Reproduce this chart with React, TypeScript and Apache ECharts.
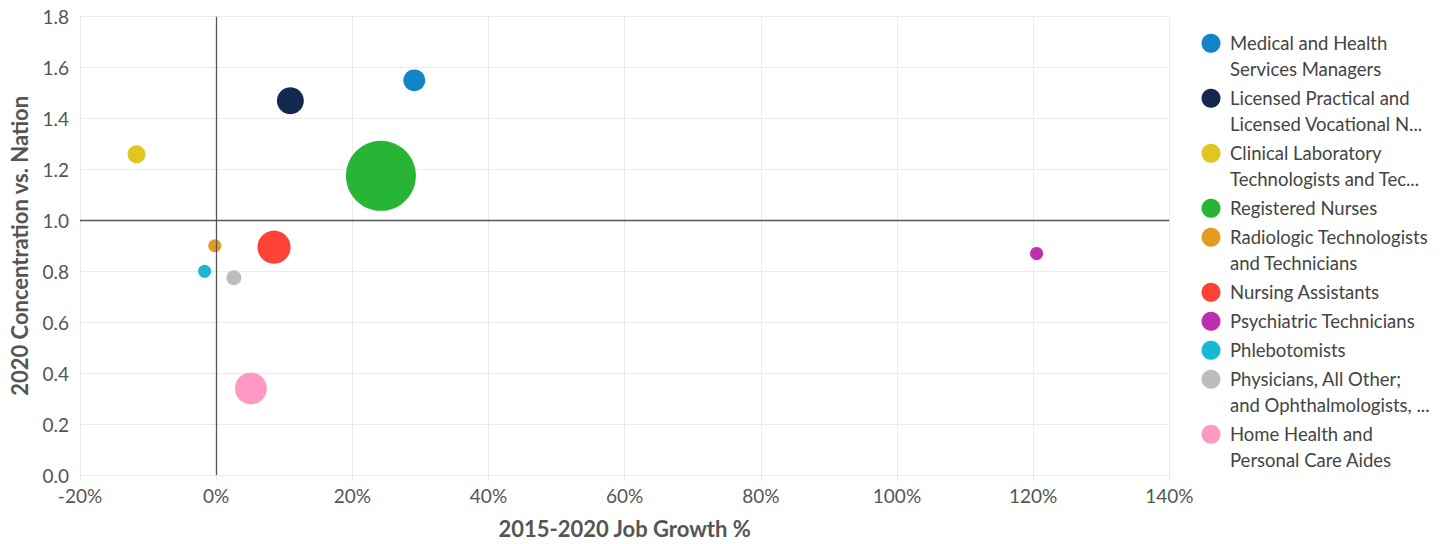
import React, { useEffect, useRef } from "react";
import * as echarts from "echarts";

// Occupations shown as bubbles
const occupations = [
  "Medical and Health\nServices Managers",
  "Licensed Practical and\nLicensed Vocational N...",
  "Clinical Laboratory\nTechnologists and Tec...",
  "Registered Nurses",
  "Radiologic Technologists\nand Technicians",
  "Nursing Assistants",
  "Psychiatric Technicians",
  "Phlebotomists",
  "Physicians, All Other;\nand Ophthalmologists, ...",
  "Home Health and\nPersonal Care Aides",
];

// 2015-2020 job growth, in percent
const jobGrowth = [29.1, 10.9, -11.7, 24.2, -0.2, 8.5, 120.5, -1.7, 2.6, 5.1];
// 2020 concentration relative to the nation
const concentration = [1.55, 1.47, 1.26, 1.175, 0.9, 0.895, 0.87, 0.8, 0.775, 0.34];
// 2020 jobs, sets bubble area
const jobs2020 = [480, 730, 320, 4900, 170, 1090, 170, 170, 225, 1020];

const colors = [
  "#1185c8",
  "#152850",
  "#e2c620",
  "#27b536",
  "#e39c1d",
  "#ff4136",
  "#c02eb0",
  "#17b8d4",
  "#bdbdbd",
  "#ff99c3",
];

// x-axis ticks (percent) and y-axis ticks
const xTicks = { min: -20, max: 140, interval: 20 };
const yTicks = { min: 0, max: 1.8, interval: 0.2 };

const FONT = "Lato, 'Noto Sans', sans-serif";

export default function App() {
  const ref = useRef<HTMLDivElement>(null);

  useEffect(() => {
    document.body.style.margin = "0";
    if (!ref.current) return;
    const chart = echarts.init(ref.current, undefined, { renderer: "svg" });

    const series: any[] = occupations.map((name, i) => ({
      type: "scatter",
      name,
      data: [[jobGrowth[i], concentration[i], jobs2020[i]]],
      symbolSize: (v: number[]) => Math.sqrt(v[2]),
      itemStyle: { color: colors[i], opacity: 1 },
      z: 3,
    }));

    // Reference lines at 0% growth and national concentration of 1.0
    series.push({
      type: "scatter",
      name: "ref",
      data: [],
      z: 2,
      markLine: {
        silent: true,
        symbol: "none",
        animation: false,
        label: { show: false },
        lineStyle: { color: "#555", width: 1.3, type: "solid" },
        data: [{ xAxis: 0 }, { yAxis: 1 }],
      },
    });

    // Legend drawn as circles and wrapped labels
    const graphic: any[] = [];
    let lineCenter = 43.3;
    occupations.forEach((name, i) => {
      const lines = name.split("\n").length;
      graphic.push({
        type: "circle",
        shape: { cx: 1211, cy: lineCenter, r: 9.5 },
        style: { fill: colors[i] },
        silent: true,
      });
      graphic.push({
        type: "text",
        x: 1230,
        y: lineCenter - 13,
        style: {
          text: name,
          font: `18.5px ${FONT}`,
          fill: "#444",
          lineHeight: 26,
          verticalAlign: "top",
          align: "left",
        },
        silent: true,
      });
      lineCenter += lines * 26 + 3;
    });

    chart.setOption({
      animation: false,
      textStyle: { fontFamily: FONT },
      grid: { left: 79.3, right: 277.7, top: 16.7, bottom: 64, containLabel: false },
      xAxis: {
        type: "value",
        min: xTicks.min,
        max: xTicks.max,
        interval: xTicks.interval,
        name: "2015-2020 Job Growth %",
        nameLocation: "middle",
        nameGap: 42,
        nameTextStyle: { fontSize: 22, fontWeight: "bold", color: "#555", fontFamily: FONT },
        axisLine: { show: false },
        axisTick: { show: true, length: 6, lineStyle: { color: "#e6e6e6" } },
        splitLine: { show: true, lineStyle: { color: "#ebebeb", width: 1 } },
        axisLabel: {
          formatter: (v: number) => `${v}%`,
          fontSize: 19,
          color: "#555",
          margin: 11,
          fontFamily: FONT,
        },
      },
      yAxis: {
        type: "value",
        min: yTicks.min,
        max: yTicks.max,
        interval: yTicks.interval,
        name: "2020 Concentration vs. Nation",
        nameLocation: "middle",
        nameGap: 50,
        nameTextStyle: { fontSize: 22, fontWeight: "bold", color: "#555", fontFamily: FONT },
        axisLine: { show: false },
        axisTick: { show: true, length: 6, lineStyle: { color: "#e6e6e6" } },
        splitLine: { show: true, lineStyle: { color: "#ebebeb", width: 1 } },
        axisLabel: {
          formatter: (v: number) => v.toFixed(1),
          fontSize: 19,
          color: "#555",
          margin: 11,
          fontFamily: FONT,
        },
      },
      graphic,
      series,
    });

    return () => chart.dispose();
  }, []);

  return <div ref={ref} style={{ width: 1447, height: 544 }} />;
}
